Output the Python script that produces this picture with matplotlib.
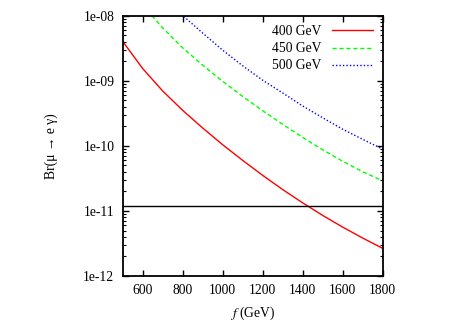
import math
import matplotlib
matplotlib.use("Agg")
import matplotlib.pyplot as plt
from matplotlib.ticker import LogLocator, FixedLocator, FuncFormatter, NullFormatter

plt.rcParams['font.family'] = ['Liberation Serif', 'DejaVu Serif']
plt.rcParams['mathtext.fontset'] = 'stix'

# f (GeV)
f_red = [500, 600, 700, 800, 900, 1000, 1100, 1200, 1300, 1400, 1500, 1600, 1700, 1800]
br_400 = [4.03e-9, 1.54e-9, 6.97e-10, 3.51e-10, 1.88e-10, 1.04e-10, 5.98e-11,
          3.52e-11, 2.13e-11, 1.33e-11, 8.53e-12, 5.64e-12, 3.83e-12, 2.66e-12]

f_green = [600, 700, 800, 900, 1000, 1100, 1200, 1300, 1400, 1500, 1600, 1700, 1800]
br_450 = [1.45e-8, 6.5e-9, 3.2e-9, 1.74e-9, 9.8e-10, 5.75e-10, 3.47e-10,
          2.14e-10, 1.35e-10, 8.7e-11, 5.8e-11, 4.0e-11, 2.9e-11]

f_blue = [700, 800, 900, 1000, 1100, 1200, 1300, 1400, 1500, 1600, 1700, 1800]
br_500 = [2.1e-8, 1.01e-8, 5.4e-9, 2.95e-9, 1.7e-9, 1.02e-9, 6.5e-10,
          4.1e-10, 2.7e-10, 1.8e-10, 1.26e-10, 8.9e-11]

meg_bound = 1.2e-11
labels = ["400 GeV", "450 GeV", "500 GeV"]
xticks = [600, 800, 1000, 1200, 1400, 1600, 1800]


def exp_label(v, pos):
    return "1e-%02d" % round(-math.log10(v))


fig = plt.figure(figsize=(4.71, 3.30), dpi=100)
ax = fig.add_axes([0.2605, 0.1636, 0.552, 0.7888])

ax.plot(f_red, br_400, color="#ff0000", lw=1.0, ls="-", label=labels[0])
ax.plot(f_green, br_450, color="#00ff00", lw=1.0, ls=(0, (3, 2)), label=labels[1])
ax.plot(f_blue, br_500, color="#0000ff", lw=1.0, ls=(0, (1, 1.5)), label=labels[2])
ax.axhline(meg_bound, color="black", lw=1.0)

ax.set_yscale("log")
ax.set_xlim(500, 1800)
ax.set_ylim(1e-12, 1e-8)

ax.xaxis.set_major_locator(FixedLocator(xticks))
ax.yaxis.set_major_locator(LogLocator(base=10))
ax.yaxis.set_minor_locator(LogLocator(base=10, subs=range(2, 10)))
ax.yaxis.set_minor_formatter(NullFormatter())
ax.yaxis.set_major_formatter(FuncFormatter(exp_label))

ax.tick_params(which="both", direction="in", top=True, right=True, labelsize=9.8, pad=6)
ax.tick_params(which="major", length=4, width=1)
ax.tick_params(which="minor", length=2, width=0.8)
for s in ax.spines.values():
    s.set_linewidth(1.3)

ax.set_xlabel(r"$f$ (GeV)", fontsize=9.8, labelpad=5)
ax.set_ylabel("Br(μ → e γ)", fontsize=9.8, labelpad=18)

ax.legend(loc="upper right", frameon=False, markerfirst=False, fontsize=9.8,
          handlelength=3.0, handletextpad=0.8, labelspacing=0.3,
          borderaxespad=0.3)

fig.savefig("out.png", dpi=100)
